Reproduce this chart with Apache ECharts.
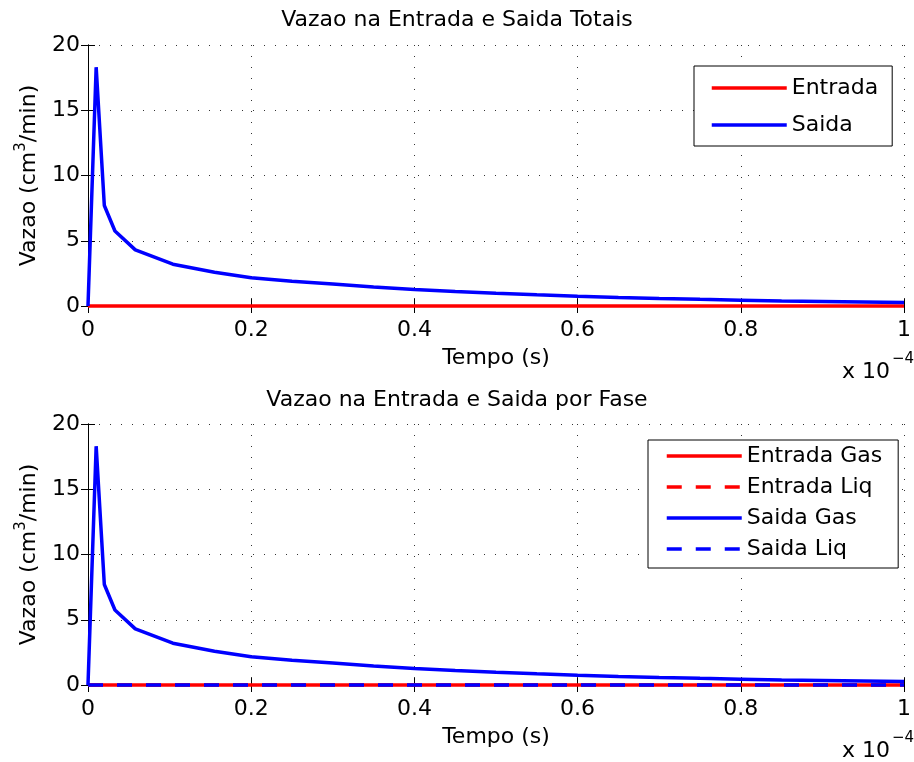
<!DOCTYPE html>
<html>
<head>
<meta charset="utf-8">
<script src="https://cdn.jsdelivr.net/npm/echarts@6/dist/echarts.min.js"></script>
<style>html,body{margin:0;padding:0;background:#fff;}#c{width:914px;height:762px;}</style>
</head>
<body>
<div id="c"></div>
<script>
// Time in units of 1e-4 s
const tempo      = [0, 0.01, 0.02, 0.033, 0.058, 0.104, 0.155, 0.2, 0.25, 0.3, 0.35, 0.4, 0.45, 0.5, 0.55, 0.6, 0.65, 0.7, 0.75, 0.8, 0.85, 0.9, 0.95, 1.0];
const entrada    = [0, 0, 0, 0, 0, 0, 0, 0, 0, 0, 0, 0, 0, 0, 0, 0, 0, 0, 0, 0, 0, 0, 0, 0];
const saida      = [0, 18.3, 7.7, 5.75, 4.3, 3.2, 2.58, 2.17, 1.9, 1.68, 1.46, 1.27, 1.12, 0.98, 0.86, 0.75, 0.66, 0.58, 0.51, 0.45, 0.39, 0.35, 0.31, 0.27];
const entradaGas = [0, 0, 0, 0, 0, 0, 0, 0, 0, 0, 0, 0, 0, 0, 0, 0, 0, 0, 0, 0, 0, 0, 0, 0];
const entradaLiq = [0, 0, 0, 0, 0, 0, 0, 0, 0, 0, 0, 0, 0, 0, 0, 0, 0, 0, 0, 0, 0, 0, 0, 0];
const saidaGas   = [0, 18.3, 7.7, 5.75, 4.3, 3.2, 2.58, 2.17, 1.9, 1.68, 1.46, 1.27, 1.12, 0.98, 0.86, 0.75, 0.66, 0.58, 0.51, 0.45, 0.39, 0.35, 0.31, 0.27];
const saidaLiq   = [0, 0, 0, 0, 0, 0, 0, 0, 0, 0, 0, 0, 0, 0, 0, 0, 0, 0, 0, 0, 0, 0, 0, 0];
const xTicks = {min: 0, max: 1, interval: 0.2};
const yTicks = {min: 0, max: 20, interval: 5};
const titles = ['Vazao na Entrada e Saida Totais', 'Vazao na Entrada e Saida por Fase'];

const FONT = 'DejaVu Sans';
const pairs = (x, y) => x.map((t, i) => [t, y[i]]);
const grids = [{left: 88, top: 45, width: 822, height: 261}, {left: 88, top: 424, width: 822, height: 261}];

const tick = {show: true, inside: true, length: 7, lineStyle: {color: '#000', width: 1}};
const axLine = {show: true, lineStyle: {color: '#000', width: 1}};
const split = {show: true, lineStyle: {type: [1, 10], color: '#333', width: 1}};

const xAxes = [], yAxes = [];
[0, 1].forEach(g => {
  xAxes.push({type: 'value', gridIndex: g, position: 'bottom', min: xTicks.min, max: xTicks.max, interval: xTicks.interval,
    axisLine: axLine, axisTick: tick, splitLine: split,
    axisLabel: {color: '#000', fontFamily: FONT, fontSize: 22, margin: 13},
    name: 'Tempo (s)', nameLocation: 'middle', nameGap: 41,
    nameTextStyle: {color: '#000', fontFamily: FONT, fontSize: 22}});
  xAxes.push({type: 'value', gridIndex: g, position: 'top', min: xTicks.min, max: xTicks.max, interval: xTicks.interval,
    axisLine: axLine, axisTick: tick, splitLine: {show: false}, axisLabel: {show: false}});
  yAxes.push({type: 'value', gridIndex: g, position: 'left', min: yTicks.min, max: yTicks.max, interval: yTicks.interval,
    axisLine: axLine, axisTick: tick, splitLine: split,
    axisLabel: {color: '#000', fontFamily: FONT, fontSize: 22, margin: 8},
    name: '{a|Vazao (cm}{s|3}{a|/min)}', nameLocation: 'middle', nameGap: 44,
    nameTextStyle: {color: '#000', fontFamily: FONT, fontSize: 22,
      rich: {a: {fontFamily: FONT, fontSize: 22, lineHeight: 30, color: '#000'},
             s: {fontFamily: FONT, fontSize: 15, lineHeight: 16, verticalAlign: 'top', color: '#000'}}}});
  yAxes.push({type: 'value', gridIndex: g, position: 'right', min: yTicks.min, max: yTicks.max, interval: yTicks.interval,
    axisLine: axLine, axisTick: tick, splitLine: {show: false}, axisLabel: {show: false}});
});

const mk = (name, x, y, ax, color, type) => ({
  name, type: 'line', xAxisIndex: ax, yAxisIndex: ax, data: pairs(x, y), symbol: 'none', clip: false,
  lineStyle: {color, width: 3.5, type}, itemStyle: {color}, animation: false
});

const series = [
  mk('Entrada', tempo, entrada, 0, '#ff0000', 'solid'),
  mk('Saida', tempo, saida, 0, '#0000ff', 'solid'),
  mk('Entrada Gas', tempo, entradaGas, 2, '#ff0000', 'solid'),
  mk('Entrada Liq', tempo, entradaLiq, 2, '#ff0000', [15, 14]),
  mk('Saida Gas', tempo, saidaGas, 2, '#0000ff', 'solid'),
  mk('Saida Liq', tempo, saidaLiq, 2, '#0000ff', [15, 14])
];

const legendText = {color: '#000', fontFamily: FONT, fontSize: 22, lineHeight: 22};
const legendItem = {opacity: 0, borderWidth: 0};
const legendLine = {width: 3.5};
const option = {
  animation: false,
  backgroundColor: '#fff',
  grid: grids,
  xAxis: xAxes,
  yAxis: yAxes,
  title: [
    {text: titles[0], left: 'center', top: 9, textStyle: {color: '#000', fontFamily: FONT, fontSize: 22, fontWeight: 'normal'}, padding: 0},
    {text: titles[1], left: 'center', top: 389, textStyle: {color: '#000', fontFamily: FONT, fontSize: 22, fontWeight: 'normal'}, padding: 0}
  ],
  legend: [
    {data: ['Entrada', 'Saida'], orient: 'vertical', left: 694, top: 66, itemWidth: 75, itemHeight: 22, itemGap: 15, itemStyle: legendItem, lineStyle: legendLine,
     padding: [11, 14, 10, 16], borderColor: '#000', borderWidth: 1, backgroundColor: '#fff', textStyle: legendText, selectedMode: false},
    {data: ['Entrada Gas', 'Entrada Liq', 'Saida Gas', 'Saida Liq'], orient: 'vertical', left: 648, top: 440, itemWidth: 75, itemHeight: 22, itemGap: 9, itemStyle: legendItem, lineStyle: legendLine,
     padding: [5, 16, 8, 17], borderColor: '#000', borderWidth: 1, backgroundColor: '#fff', textStyle: legendText, selectedMode: false}
  ],
  graphic: [
    {type: 'text', left: 842, top: 361, style: {text: 'x 10', fill: '#000', font: '22px "DejaVu Sans"'}},
    {type: 'text', left: 892, top: 352, style: {text: '\u22124', fill: '#000', font: '15px "DejaVu Sans"'}},
    {type: 'text', left: 842, top: 740, style: {text: 'x 10', fill: '#000', font: '22px "DejaVu Sans"'}},
    {type: 'text', left: 892, top: 731, style: {text: '\u22124', fill: '#000', font: '15px "DejaVu Sans"'}}
  ],
  series
};
const chart = echarts.init(document.getElementById('c'), null, {renderer: 'canvas'});
chart.setOption(option);
</script>
</body>
</html>
